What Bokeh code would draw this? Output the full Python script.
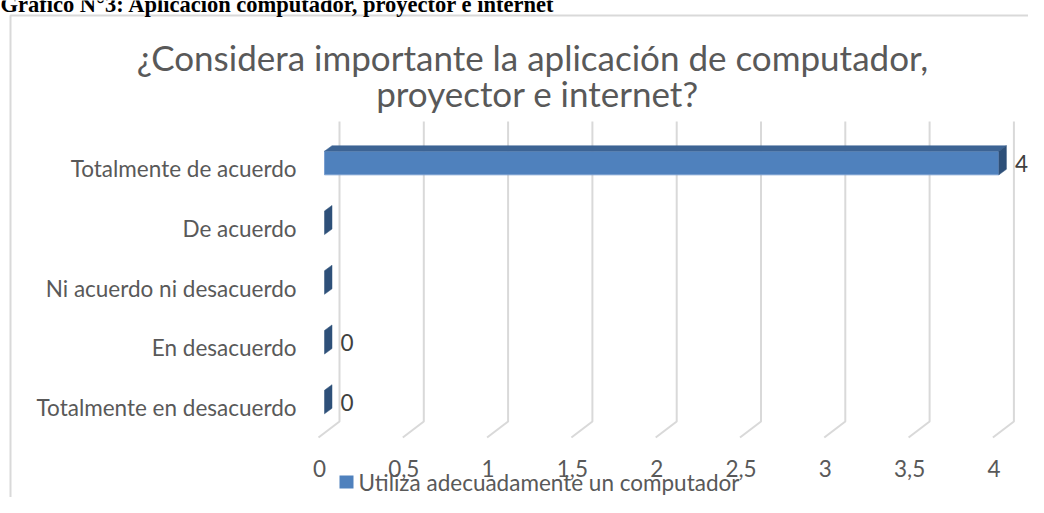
from bokeh.plotting import figure
from bokeh.models import Range1d, ColumnDataSource
from bokeh.core.properties import value
from bokeh.embed import file_html
from bokeh.resources import INLINE

# ---------------- data ----------------
categories = ["Totalmente de acuerdo", "De acuerdo", "Ni acuerdo ni desacuerdo",
              "En desacuerdo", "Totalmente en desacuerdo"]
values = [4, 0, 0, 0, 0]
value_labels = ["4", "", "", "0", "0"]
ticks = [0, 0.5, 1, 1.5, 2, 2.5, 3, 3.5, 4]
tick_labels = ["0", "0,5", "1", "1,5", "2", "2,5", "3", "3,5", "4"]
series_name = "Utiliza adecuadamente un computador"
title_lines = ["¿Considera importante la aplicación de computador,", "proyector e internet?"]
heading = "Gráfico N°3: Aplicación computador, proyector e internet"

# ---------------- layout helpers ----------------
W, H = 1028, 497
OFF = 0            # canvas origin in picture pixels
S = 168.6          # px per value unit
X0 = 324.0         # picture x of value 0 (bar front face)
R = 59.75          # px per category row
Y0 = 168.0         # picture y of first row centre

def XP(px):
    return (px - X0) / S

def YP(py):
    return (py - Y0) / R

def dx(px):
    return px / S

def dy(px):
    return px / R

FONT = value("Lato")
TXT = "#595959"
GRID = "#D9D9D9"
FS = "22.5px"

p = figure(width=W, height=H, output_backend="svg", toolbar_location=None,
           x_range=Range1d(XP(OFF), XP(OFF + W)),
           y_range=Range1d(YP(OFF + H), YP(OFF)),
           min_border=0, outline_line_color=None)
p.axis.visible = False
p.grid.visible = False
p.background_fill_color = "white"
p.border_fill_color = "white"

# chart border
p.line(x=[XP(10), XP(10), XP(1100)], y=[YP(700), YP(15), YP(15)],
       line_color=GRID, line_width=2)

# gridlines (back wall + floor foot)
gxs = [[t + dx(15), t + dx(15), t + dx(-6)] for t in ticks]
gys = [[YP(121), YP(421), YP(437)] for t in ticks]
p.multi_line(xs=gxs, ys=gys, line_color=GRID, line_width=2)

# bars (3D)
rows = list(range(len(categories)))
ft = [r + dy(-17.3) for r in rows]
fb = [r + dy(6.3) for r in rows]
ddx, ddy = dx(7.5), dy(-5.5)

nz = [i for i in rows if values[i] > 0]
p.quad(left=[0] * len(nz), right=[values[i] for i in nz],
       top=[ft[i] for i in nz], bottom=[fb[i] for i in nz],
       fill_color="#4F81BD", line_color="#7A9FD0", line_width=1)
p.patches(xs=[[0, values[i], values[i] + ddx, ddx] for i in nz],
          ys=[[ft[i], ft[i], ft[i] + ddy, ft[i] + ddy] for i in nz],
          fill_color="#3D6494", line_color="#3D6494", line_width=0.5)
p.patches(xs=[[values[i], values[i] + ddx, values[i] + ddx, values[i]] for i in rows],
          ys=[[ft[i], ft[i] + ddy, fb[i] + ddy, fb[i]] for i in rows],
          fill_color="#2E5079", line_color="#2E5079", line_width=0.5)

# category labels
p.text(x=[XP(296)] * len(categories), y=rows, text=categories,
       text_align="right", text_baseline="middle", text_font=FONT,
       text_font_size=FS, text_color=TXT)

# value labels
vsrc = ColumnDataSource(dict(x=[v + dx(16) for v in values],
                             y=[r + dy(-5) for r in rows], t=value_labels))
p.text(x="x", y="y", text="t", source=vsrc, text_align="left",
       text_baseline="middle", text_font=FONT, text_font_size=FS,
       text_color="#404040")

# tick labels
p.text(x=[t + dx(-5) for t in ticks], y=[YP(468)] * len(ticks), text=tick_labels,
       text_align="center", text_baseline="middle", text_font=FONT,
       text_font_size=FS, text_color=TXT)

# title
p.text(x=[XP(532), XP(537)], y=[YP(56), YP(92)], text=title_lines,
       text_align="center", text_baseline="middle", text_font=FONT,
       text_font_size="35px", text_color=TXT)

# legend
p.quad(left=[XP(339)], right=[XP(353)], top=[YP(475)], bottom=[YP(488)],
       fill_color="#4F81BD", line_color=None)
p.text(x=[XP(358)], y=[YP(482)], text=[series_name], text_align="left",
       text_baseline="middle", text_font=FONT, text_font_size=FS,
       text_color=TXT)

# page heading (partly cut off at top, as in the source page)
p.text(x=[XP(0)], y=[YP(4)], text=[heading], text_align="left",
       text_baseline="alphabetic", text_font=value("Liberation Serif"),
       text_font_size="22.5px", text_font_style="bold", text_color="black")

open("out.html", "w").write(file_html(p, INLINE))
